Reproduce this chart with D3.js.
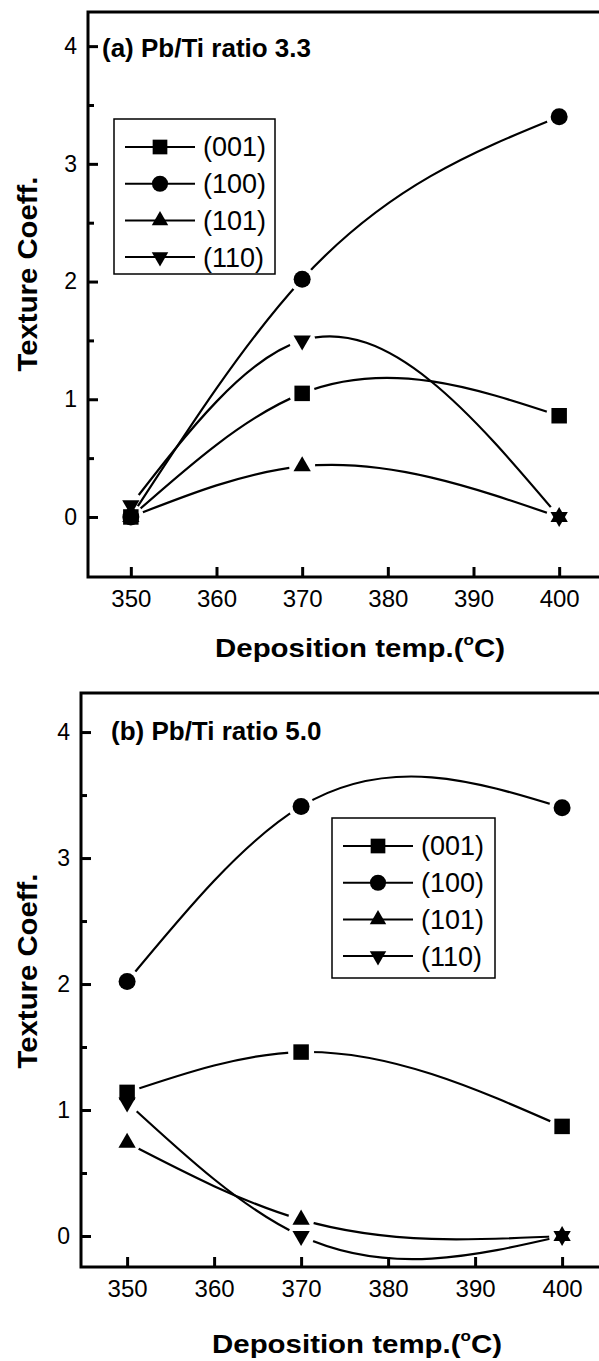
<!DOCTYPE html>
<html>
<head>
<meta charset="utf-8">
<script src="https://cdn.jsdelivr.net/npm/d3@7"></script>
<style>
  body { margin: 0; background: #fff; }
  text { font-family: "Liberation Sans", Arial, sans-serif; fill: #000; }
</style>
</head>
<body>
<svg id="chart" width="599" height="1361"></svg>
<script>
// deposition temperatures (x) and the four planes
const temps = [350, 370, 400];
const planes = ["(001)", "(100)", "(101)", "(110)"];

// (a) Pb/Ti ratio 3.3
const a001 = [0, 1.05, 0.86];
const a100 = [0, 2.02, 3.40];
const a101 = [0, 0.43, 0];
const a110 = [0.10, 1.50, 0];

// (b) Pb/Ti ratio 5.0
const b001 = [1.14, 1.46, 0.87];
const b100 = [2.02, 3.41, 3.40];
const b101 = [0.74, 0.13, 0];
const b110 = [1.06, 0, 0];

const xTicks = [350, 360, 370, 380, 390, 400];
const yTicks = [0, 1, 2, 3, 4];
const yMinor = [0.5, 1.5, 2.5, 3.5];
const titles = ["(a) Pb/Ti ratio 3.3", "(b) Pb/Ti ratio 5.0"];

const symbols = [
  {type: d3.symbolSquare, size: 240, rot: 0},
  {type: d3.symbolCircle, size: 227, rot: 0},
  {type: d3.symbolTriangle, size: 130, rot: 0},
  {type: d3.symbolTriangle, size: 130, rot: 180}
];

const panels = [
  {key: "a", series: [a001, a100, a101, a110], title: titles[0],
   xDomain: [345, 405], xRange: [88, 602], yDomain: [-0.51, 4.29], yRange: [577, 12],
   titleX: 102, titleY: 57, leg: {x: 114, y: 119, w: 161, h: 155},
   xLabelX: 360, xLabelY: 657, yLabelY: 274},
  {key: "b", series: [b001, b100, b101, b110], title: titles[1],
   xDomain: [344.7, 405], xRange: [81, 605.6], yDomain: [-0.246, 4.31], yRange: [1267, 693],
   titleX: 111, titleY: 740, leg: {x: 332, y: 818, w: 163, h: 160},
   xLabelX: 357, xLabelY: 1353, yLabelY: 971}
];

const svg = d3.select("#chart");
const defs = svg.append("defs");

// natural cubic spline y(x) -> bezier path (scales are linear so pixel space is fine)
function splinePath(pts) {
  const n = pts.length, h = [], M = new Array(n).fill(0);
  for (let i = 0; i < n - 1; i++) h.push(pts[i + 1][0] - pts[i][0]);
  if (n > 2) {
    const a = [], b = [], c = [], r = [];
    for (let i = 1; i < n - 1; i++) {
      a.push(h[i - 1]); b.push(2 * (h[i - 1] + h[i])); c.push(h[i]);
      r.push(6 * ((pts[i + 1][1] - pts[i][1]) / h[i] - (pts[i][1] - pts[i - 1][1]) / h[i - 1]));
    }
    const m = b.length;
    for (let i = 1; i < m; i++) {
      const w = a[i] / b[i - 1];
      b[i] -= w * c[i - 1]; r[i] -= w * r[i - 1];
    }
    const sol = new Array(m);
    sol[m - 1] = r[m - 1] / b[m - 1];
    for (let i = m - 2; i >= 0; i--) sol[i] = (r[i] - c[i] * sol[i + 1]) / b[i];
    for (let i = 0; i < m; i++) M[i + 1] = sol[i];
  }
  const p = d3.path();
  p.moveTo(pts[0][0], pts[0][1]);
  for (let i = 0; i < n - 1; i++) {
    const [x0, y0] = pts[i], [x1, y1] = pts[i + 1], hh = h[i];
    const s = (y1 - y0) / hh;
    const d0 = s - hh * (2 * M[i] + M[i + 1]) / 6;
    const d1 = s + hh * (M[i] + 2 * M[i + 1]) / 6;
    p.bezierCurveTo(x0 + hh / 3, y0 + d0 * hh / 3, x1 - hh / 3, y1 - d1 * hh / 3, x1, y1);
  }
  return p.toString();
}

panels.forEach(pn => {
  const x = d3.scaleLinear().domain(pn.xDomain).range(pn.xRange);
  const y = d3.scaleLinear().domain(pn.yDomain).range(pn.yRange);
  const g = svg.append("g");

  // minor y ticks
  g.append("g").attr("transform", `translate(${pn.xRange[0]},0)`)
    .call(d3.axisLeft(y).tickValues(yMinor).tickSize(-6).tickFormat(""))
    .call(s => s.select(".domain").remove())
    .selectAll("line").attr("stroke-width", 3);

  // major y ticks
  g.append("g").attr("transform", `translate(${pn.xRange[0]},0)`)
    .call(d3.axisLeft(y).tickValues(yTicks).tickSize(-10).tickPadding(11).tickFormat(d3.format("d")))
    .call(s => s.select(".domain").remove())
    .call(s => s.selectAll("line").attr("stroke-width", 3))
    .call(s => s.selectAll("text").attr("font-size", 23).attr("font-family", "Liberation Sans, Arial, sans-serif"));

  // x ticks
  g.append("g").attr("transform", `translate(0,${pn.yRange[0]})`)
    .call(d3.axisBottom(x).tickValues(xTicks).tickSize(-10).tickPadding(13).tickFormat(d3.format("d")))
    .call(s => s.select(".domain").remove())
    .call(s => s.selectAll("line").attr("stroke-width", 3))
    .call(s => s.selectAll("text").attr("font-size", 24).attr("font-family", "Liberation Sans, Arial, sans-serif"));

  // frame
  g.append("rect")
    .attr("x", pn.xRange[0]).attr("y", pn.yRange[1])
    .attr("width", pn.xRange[1] - pn.xRange[0]).attr("height", pn.yRange[0] - pn.yRange[1])
    .attr("fill", "none").attr("stroke", "#000").attr("stroke-width", 3);

  // curves with gaps around their own markers
  pn.series.forEach((vals, si) => {
    const pts = vals.map((v, i) => [x(temps[i]), y(v)]);
    const mid = `gap-${pn.key}-${si}`;
    const mask = defs.append("mask").attr("id", mid).attr("maskUnits", "userSpaceOnUse")
      .attr("x", 0).attr("y", 0).attr("width", 599).attr("height", 1361);
    mask.append("rect").attr("width", 599).attr("height", 1361).attr("fill", "#fff");
    mask.selectAll("circle").data(pts).join("circle")
      .attr("cx", d => d[0]).attr("cy", d => d[1]).attr("r", 13).attr("fill", "#000");
    g.append("path").attr("d", splinePath(pts))
      .attr("fill", "none").attr("stroke", "#000").attr("stroke-width", 2.2)
      .attr("mask", `url(#${mid})`);
  });

  // markers
  pn.series.forEach((vals, si) => {
    const sym = symbols[si];
    g.append("g").selectAll("path").data(vals).join("path")
      .attr("d", d3.symbol().type(sym.type).size(sym.size))
      .attr("transform", (d, i) => `translate(${x(temps[i])},${y(d)}) rotate(${sym.rot})`)
      .attr("fill", "#000");
  });

  // title
  g.append("text").attr("x", pn.titleX).attr("y", pn.titleY)
    .attr("font-size", 26).attr("font-weight", "bold").text(pn.title);

  // legend
  const L = pn.leg;
  const lg = g.append("g");
  lg.append("rect").attr("x", L.x).attr("y", L.y).attr("width", L.w).attr("height", L.h)
    .attr("fill", "#fff").attr("stroke", "#000").attr("stroke-width", 1.5);
  planes.forEach((name, i) => {
    const cy = L.y + 28 + i * 36.7;
    const x0 = L.x + 11, xm = x0 + 35;
    lg.append("line").attr("x1", x0).attr("x2", x0 + 70).attr("y1", cy).attr("y2", cy)
      .attr("stroke", "#000").attr("stroke-width", 2);
    const sym = symbols[i];
    lg.append("path").attr("d", d3.symbol().type(sym.type).size(sym.size * 0.9))
      .attr("transform", `translate(${xm},${cy}) rotate(${sym.rot})`).attr("fill", "#000");
    lg.append("text").attr("x", x0 + 78).attr("y", cy).attr("dy", "0.35em")
      .attr("font-size", 27).text(name);
  });

  // axis labels
  const xl = g.append("text").attr("x", pn.xLabelX).attr("y", pn.xLabelY)
    .attr("text-anchor", "middle").attr("font-size", 26).attr("font-weight", "bold")
    .attr("textLength", 290).attr("lengthAdjust", "spacingAndGlyphs");
  xl.append("tspan").text("Deposition temp.(");
  xl.append("tspan").attr("font-size", 15).attr("dy", -12).text("o");
  xl.append("tspan").attr("dy", 12).text("C)");

  g.append("text")
    .attr("transform", `translate(37,${pn.yLabelY}) rotate(-90)`)
    .attr("text-anchor", "middle").attr("font-size", 28).attr("font-weight", "bold")
    .attr("textLength", 195).attr("lengthAdjust", "spacingAndGlyphs")
    .text("Texture Coeff.");
});
</script>
</body>
</html>
